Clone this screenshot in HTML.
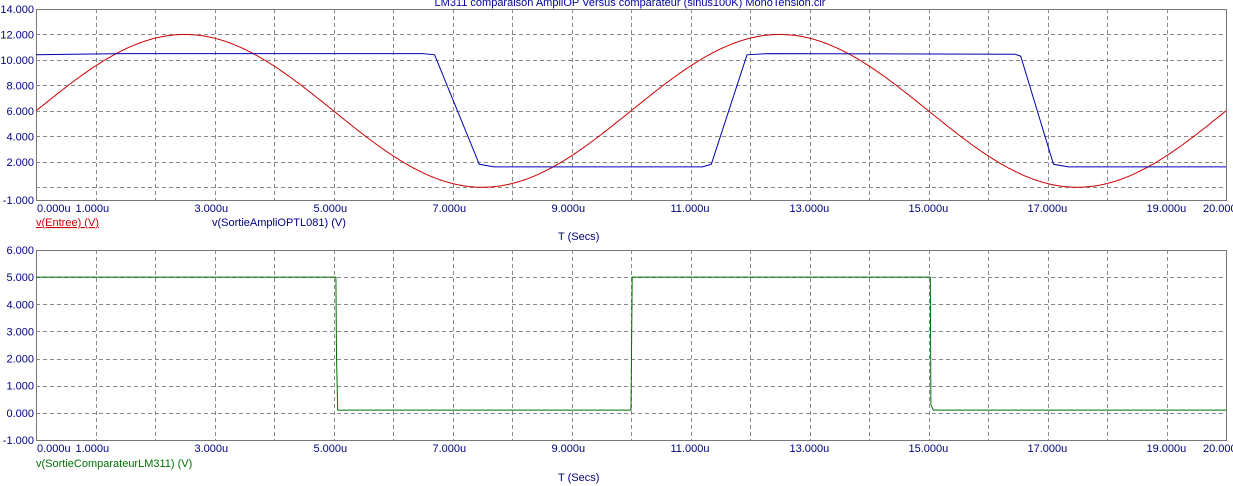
<!DOCTYPE html>
<html><head><meta charset="utf-8"><style>
html,body{margin:0;padding:0;background:#fff}
svg{display:block;font-family:"Liberation Sans",sans-serif;font-size:11px}
</style></head><body>
<svg id="s" width="1233" height="486" xmlns="http://www.w3.org/2000/svg">
<rect width="1233" height="486" fill="#fff"/>
<text x="630" y="6" fill="#0000a0" text-anchor="middle" font-size="11">LM311 comparaison AmpliOP Versus comparateur (sinus100K) MonoTension.cir</text>
<g id="g"></g>
</svg>
<script>
const NS="http://www.w3.org/2000/svg",g=document.getElementById('g');
function el(t,a,txt){const e=document.createElementNS(NS,t);for(const k in a)e.setAttribute(k,a[k]);if(txt!==undefined)e.textContent=txt;g.appendChild(e);return e;}
const X0=36,X1=1226,xs=t=>X0+(X1-X0)*t/20;
function panel(top,bot,vmax,vmin,ticks,labs){
  const ys=v=>top+(bot-top)*(vmax-v)/(vmax-vmin);
  for(let i=1;i<20;i++)el('line',{x1:Math.round(xs(i))+.5,x2:Math.round(xs(i))+.5,y1:top,y2:bot,stroke:'#888','stroke-dasharray':'4,3'});
  ticks.forEach(v=>{if(v!==vmax&&v!==vmin)el('line',{x1:X0,x2:X1,y1:Math.round(ys(v))+.5,y2:Math.round(ys(v))+.5,stroke:'#888','stroke-dasharray':'4,3'});});
  el('rect',{x:X0+.5,y:top+.5,width:X1-X0,height:bot-top,fill:'none',stroke:'#777'});
  labs.forEach(v=>el('text',{x:34,y:ys(v)+4,fill:'#000080','text-anchor':'end'},v.toFixed(3)));
  [0,1,3,5,7,9,11,13,15,17,19,20].forEach(t=>{let x=t==0?37:xs(t)-20;if(t==20)x=1203;el('text',{x:x,y:bot+12,fill:'#000080'},t.toFixed(3)+'u');});
  return ys;
}
let ys=panel(9,200,14,-1,[14,12,10,8,6,4,2,0,-1],[14,12,10,8,6,4,2,-1]);
let d='';for(let i=0;i<=1000;i++){const t=i/50;d+=(i?'L':'M')+xs(t).toFixed(1)+','+ys(6+6*Math.sin(2*Math.PI*t/10)).toFixed(1);}
el('path',{d:d,fill:'none',stroke:'#cc0000','stroke-width':1});
const bp=[[0,10.4],[0.6,10.45],[1.5,10.5],[6.5,10.5],[6.7,10.4],[7.45,1.8],[7.7,1.6],[11.2,1.6],[11.35,1.8],[11.95,10.4],[12.3,10.5],[16.45,10.45],[16.55,10.3],[17.1,1.8],[17.35,1.6],[20,1.6]];
el('path',{d:bp.map((p,i)=>(i?'L':'M')+xs(p[0]).toFixed(1)+','+ys(p[1]).toFixed(1)).join(''),fill:'none',stroke:'#0000b0','stroke-width':1});
el('text',{x:36,y:226,fill:'#cc0000','text-decoration':'underline'},'v(Entree) (V)');
el('text',{x:212,y:226,fill:'#000080'},'v(SortieAmpliOPTL081) (V)');
el('text',{x:558,y:240,fill:'#000080'},'T (Secs)');
ys=panel(250,440,6,-1,[6,5,4,3,2,1,0,-1],[6,5,4,3,2,1,0,-1]);
const cp=[[0,5],[5.04,5],[5.05,2.1],[5.07,0.1],[5.1,0.1],[10.0,0.1],[10.02,5],[15.03,5],[15.04,0.3],[15.08,0.1],[20,0.1]];
el('path',{d:cp.map((p,i)=>(i?'L':'M')+xs(p[0]).toFixed(1)+','+ys(p[1]).toFixed(1)).join(''),fill:'none',stroke:'#007000','stroke-width':1});
el('text',{x:36,y:467,fill:'#007000'},'v(SortieComparateurLM311) (V)');
el('text',{x:558,y:481,fill:'#000080'},'T (Secs)');
</script>
</body></html>
